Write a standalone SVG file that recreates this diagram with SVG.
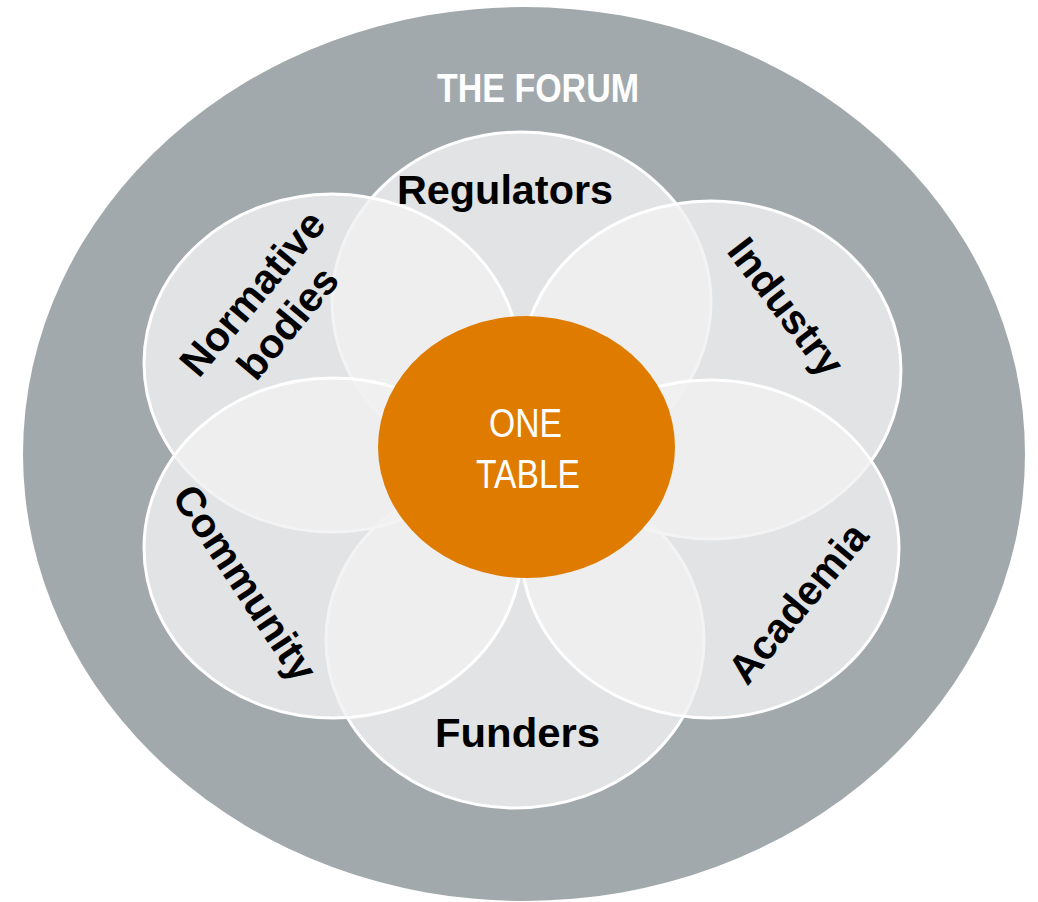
<svg xmlns="http://www.w3.org/2000/svg" width="1038" height="902" viewBox="0 0 1038 902">
  <style>
    .petal { fill: #F0F0F1; fill-opacity: 0.81; stroke: #FFFFFF; stroke-width: 3; }
    .lbl { font-family: "Liberation Sans", Arial, sans-serif; font-weight: bold; font-size: 41px; fill: #000000; text-anchor: middle; }
    .forum { font-family: "Liberation Sans", Arial, sans-serif; font-weight: bold; font-size: 40px; fill: #FFFFFF; text-anchor: middle; }
    .core { font-family: "Liberation Sans", Arial, sans-serif; font-size: 40px; fill: #FFFFFF; text-anchor: middle; }
  </style>
  <rect width="1038" height="902" fill="#FFFFFF"/>
  <g id="forum">
    <ellipse cx="524" cy="454" rx="501" ry="447" fill="#A2A9AC"/>
    <text class="forum" x="538" y="102" textLength="202" lengthAdjust="spacingAndGlyphs">THE FORUM</text>
  </g>
  <g id="regulators">
    <ellipse class="petal" cx="521.5" cy="302" rx="189.5" ry="170"/>
  </g>
  <g id="funders">
    <ellipse class="petal" cx="515" cy="640" rx="189" ry="168"/>
  </g>
  <g id="normative-bodies">
    <ellipse class="petal" cx="332" cy="363" rx="188" ry="169"/>
  </g>
  <g id="industry">
    <ellipse class="petal" cx="711" cy="370" rx="190" ry="169"/>
  </g>
  <g id="community">
    <ellipse class="petal" cx="333" cy="548" rx="189" ry="170"/>
  </g>
  <g id="academia">
    <ellipse class="petal" cx="710" cy="549" rx="189" ry="169"/>
  </g>
  <g id="labels">
    <text class="lbl" x="505" y="204" textLength="216" lengthAdjust="spacingAndGlyphs">Regulators</text>
    <text class="lbl" x="517.5" y="747" textLength="165" lengthAdjust="spacingAndGlyphs">Funders</text>
    <g transform="translate(270,308) rotate(-50)">
      <text class="lbl" x="0" y="-9">Normative</text>
      <text class="lbl" x="0" y="37">bodies</text>
    </g>
    <g transform="translate(786,307) rotate(52.5)">
      <text class="lbl" x="0" y="14">Industry</text>
    </g>
    <g transform="translate(245,583) rotate(56.5)">
      <text class="lbl" x="0" y="14">Community</text>
    </g>
    <g transform="translate(798,603) rotate(-50.5)">
      <text class="lbl" x="0" y="14">Academia</text>
    </g>
  </g>
  <g id="one-table">
    <ellipse cx="526.5" cy="447" rx="148.5" ry="131" fill="#DF7C00"/>
    <text class="core" x="525.5" y="437" textLength="73" lengthAdjust="spacingAndGlyphs">ONE</text>
    <text class="core" x="528" y="488" textLength="104" lengthAdjust="spacingAndGlyphs">TABLE</text>
  </g>
</svg>
